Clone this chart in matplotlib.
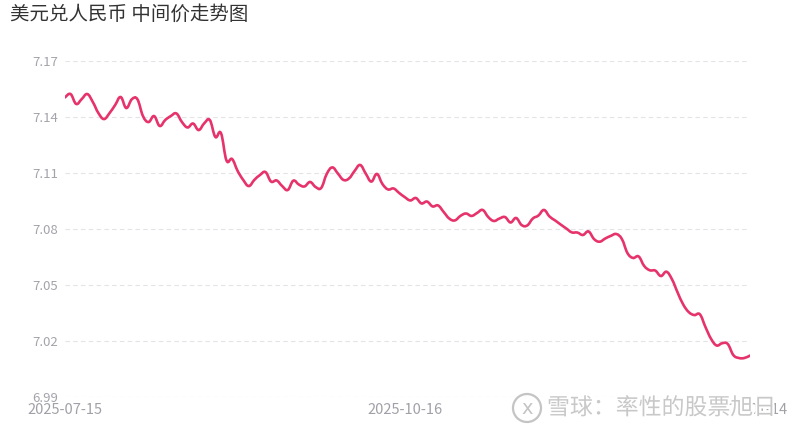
import matplotlib
matplotlib.use('Agg')
import matplotlib.pyplot as plt
import matplotlib.patheffects as pe
from matplotlib.patches import Ellipse, PathPatch
from matplotlib.path import Path
import numpy as np
import pandas as pd

plt.rcParams['font.family'] = ['Noto Sans CJK SC', 'DejaVu Sans']

TITLE = '美元兑人民币 中间价走势图'
WATERMARK = '雪球：率性的股票旭日'
LINE_COLOR = '#e6336b'

# trading days (CFETS fixing), China holidays removed
HOLIDAYS = ['2025-10-01', '2025-10-02', '2025-10-03', '2025-10-06',
            '2025-10-07', '2025-10-08', '2026-01-01', '2026-01-02']
dates = [d for d in pd.bdate_range('2025-07-15', '2026-01-14').strftime('%Y-%m-%d')
         if d not in HOLIDAYS]

# USD/CNY central parity
rates = [
    7.1505, 7.1523, 7.1470, 7.1496, 7.1523, 7.1480, 7.1421, 7.1389, 7.1421, 7.1464,
    7.1507, 7.1448, 7.1495, 7.1495, 7.1405, 7.1373, 7.1405, 7.1352, 7.1384, 7.1405,
    7.1419, 7.1373, 7.1344, 7.1365, 7.1330, 7.1366, 7.1384, 7.1293, 7.1314, 7.1167,
    7.1175, 7.1111, 7.1063, 7.1030, 7.1063, 7.1089, 7.1105, 7.1054, 7.1060, 7.1030,
    7.1009, 7.1059, 7.1038, 7.1028, 7.1052, 7.1025, 7.1020, 7.1095, 7.1130, 7.1097,
    7.1063, 7.1071, 7.1111, 7.1143, 7.1097, 7.1054, 7.1095, 7.1041, 7.1012, 7.1017,
    7.0993, 7.0971, 7.0953, 7.0966, 7.0937, 7.0947, 7.0921, 7.0926, 7.0891, 7.0856,
    7.0846, 7.0870, 7.0883, 7.0870, 7.0886, 7.0902, 7.0864, 7.0843, 7.0856, 7.0864,
    7.0835, 7.0859, 7.0821, 7.0819, 7.0856, 7.0872, 7.0902, 7.0867, 7.0846, 7.0824,
    7.0803, 7.0782, 7.0781, 7.0768, 7.0787, 7.0746, 7.0732, 7.0749, 7.0763, 7.0773,
    7.0746, 7.0671, 7.0645, 7.0653, 7.0602, 7.0579, 7.0577, 7.0548, 7.0571, 7.0530,
    7.0460, 7.0396, 7.0355, 7.0339, 7.0343, 7.0275, 7.0212, 7.0176, 7.0188, 7.0184,
    7.0125, 7.0109, 7.0109, 7.0122,
]
y_ticks = [6.99, 7.02, 7.05, 7.08, 7.11, 7.14, 7.17]


def smooth_path(xs, ys, k=0.2):
    # cubic bezier through every point (catmull-rom style handles)
    xs = np.asarray(xs, float)
    ys = np.asarray(ys, float)
    n = len(xs)
    verts = [(xs[0], ys[0])]
    codes = [Path.MOVETO]
    for i in range(n - 1):
        p0 = i - 1 if i > 0 else i
        p3 = i + 2 if i + 2 < n else i + 1
        c1 = (xs[i] + k * (xs[i + 1] - xs[p0]), ys[i] + k * (ys[i + 1] - ys[p0]))
        c2 = (xs[i + 1] - k * (xs[p3] - xs[i]), ys[i + 1] - k * (ys[p3] - ys[i]))
        verts += [c1, c2, (xs[i + 1], ys[i + 1])]
        codes += [Path.CURVE4] * 3
    return Path(verts, codes)


x = np.arange(len(rates))
mid = len(rates) // 2 - 1 if len(rates) % 2 == 0 else len(rates) // 2
x_tick_idx = [0, mid, len(rates) - 1]

fig = plt.figure(figsize=(8, 4.32), dpi=100)
ax = fig.add_axes([65 / 800, 1 - 397 / 432, 685 / 800, 336 / 432])

ax.add_patch(PathPatch(smooth_path(x, rates), fill=False, edgecolor=LINE_COLOR,
                       lw=1.9, joinstyle='round', capstyle='round', zorder=3))

ax.set_ylim(y_ticks[0], y_ticks[-1])
ax.set_xlim(x[0], x[-1])
ax.set_yticks(y_ticks)
ax.set_yticklabels(['%.2f' % t for t in y_ticks])
ax.set_xticks(x_tick_idx)
ax.set_xticklabels([dates[i] if i < len(dates) else '' for i in x_tick_idx])

ax.grid(axis='y', color='#e3e3e8', linestyle=(0, (4, 3)), linewidth=0.8)
ax.grid(axis='x', visible=False)
for s in ax.spines.values():
    s.set_visible(False)
ax.tick_params(axis='y', length=0, pad=5, labelsize=9.5, labelcolor='#a3a3ab')
ax.tick_params(axis='x', length=0, pad=4.5, labelsize=10.5, labelcolor='#a0a0a8')
ax.set_axisbelow(True)

fig.text(10 / 800, 1 - 14 / 432, TITLE, fontsize=14, color='#333333',
         ha='left', va='center')

# watermark
stroke = [pe.withStroke(linewidth=3, foreground='white')]
fig.add_artist(Ellipse((527 / 800, 1 - 408 / 432), 28 / 800, 28 / 432,
                       transform=fig.transFigure, fill=False,
                       edgecolor='#c4c4c4', lw=1.6, zorder=10))
fig.text(527 / 800, 1 - 408 / 432, 'x', fontsize=14, color='#c4c4c4',
         ha='center', va='center', family='DejaVu Sans', zorder=10)
fig.text(547 / 800, 1 - 408 / 432, WATERMARK, fontsize=16.5, color='#c8c8c8',
         ha='left', va='center', path_effects=stroke, zorder=10)

fig.savefig('out.png', dpi=100)
